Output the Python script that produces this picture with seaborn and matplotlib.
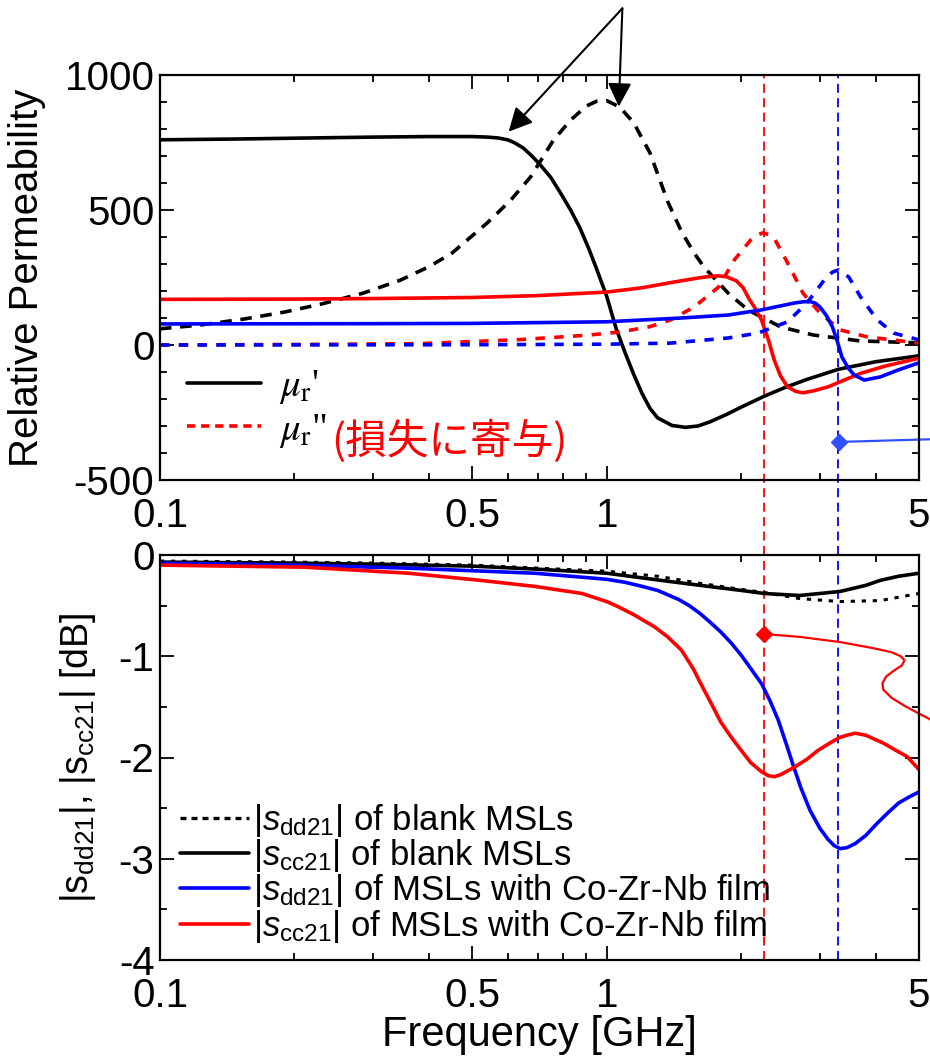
import matplotlib
matplotlib.use('Agg')
import matplotlib.pyplot as plt
import seaborn as sns
from matplotlib.lines import Line2D
from matplotlib.ticker import FixedLocator, FixedFormatter, NullFormatter, MultipleLocator
from matplotlib.font_manager import FontProperties

# ---------------- data ----------------
# Top panel: relative permeability
f_blank_re = [0.1, 0.15, 0.2, 0.3, 0.4, 0.5, 0.54, 0.57, 0.6, 0.62, 0.65, 0.68, 0.71, 0.75, 0.79, 0.83,
              0.87, 0.91, 0.95, 1.0, 1.05, 1.1, 1.15, 1.2, 1.25, 1.3, 1.4, 1.5, 1.6, 1.7, 1.85, 2.0,
              2.25, 2.5, 2.8, 3.3, 4.0, 5.0]
mu_blank_re = [760, 763, 766, 770, 772, 772, 770, 767, 760, 750, 730, 700, 667, 620, 560, 500,
               435, 360, 280, 180, 60, -30, -110, -180, -235, -270, -298, -305, -300, -285, -258, -230,
               -190, -158, -128, -90, -62, -40]

f_blank_im = [0.1, 0.123, 0.154, 0.19, 0.23, 0.285, 0.345, 0.4, 0.45, 0.54, 0.61, 0.675, 0.76, 0.83, 0.9,
              0.95, 1.0, 1.07, 1.15, 1.25, 1.37, 1.47, 1.57, 1.65, 1.87, 2.07, 2.45, 2.9, 3.7, 5.0]
mu_blank_im = [60, 74, 96, 122, 152, 192, 240, 290, 340, 452, 537, 622, 759, 833, 885,
               903, 905, 881, 822, 711, 530, 420, 340, 289, 192, 130, 67, 37, 15, 8]

f_red_re = [0.1, 0.2, 0.3, 0.5, 0.7, 1.0, 1.2, 1.4, 1.6, 1.7, 1.78, 1.85, 1.95, 2.02, 2.08, 2.15, 2.22,
            2.3, 2.37, 2.45, 2.54, 2.65, 2.75, 2.9, 3.13, 3.4, 3.7, 4.2, 5.0]
mu_red_re = [169, 170, 172, 176, 183, 196, 212, 232, 248, 254, 256, 253, 238, 212, 172, 135, 93,
             20, -55, -115, -155, -172, -177, -170, -155, -130, -105, -78, -49]

f_red_im = [0.1, 0.2, 0.38, 0.64, 0.9, 1.07, 1.25, 1.39, 1.57, 1.78, 1.93, 2.1, 2.16, 2.23, 2.3, 2.37,
            2.54, 2.75, 3.0, 3.33, 3.83, 5.0]
mu_red_im = [0, 2, 5, 20, 36, 48, 68, 93, 141, 215, 315, 389, 405, 415, 410, 396,
             304, 192, 119, 56, 30, 7]

f_blue_re = [0.1, 0.3, 0.5, 1.0, 1.47, 1.87, 2.22, 2.62, 2.75, 2.85, 2.93, 3.0, 3.1, 3.2, 3.28, 3.36,
             3.47, 3.58, 3.77, 4.1, 4.5, 5.0]
mu_blue_re = [78, 79, 80, 86, 100, 111, 130, 155, 160, 161, 155, 141, 110, 67, 15, -44,
              -85, -111, -130, -118, -92, -66]

f_blue_im = [0.1, 0.5, 1.0, 1.39, 1.87, 2.18, 2.54, 2.8, 3.07, 3.2, 3.3, 3.48, 3.7, 4.03, 4.39, 5.0]
mu_blue_im = [0, 1, 3, 7, 26, 44, 86, 154, 241, 270, 278, 252, 178, 93, 44, 19]

# Bottom panel: |s21| in dB
f_dd_blank = [0.1, 0.2, 0.3, 0.5, 0.7, 1.0, 1.3, 1.62, 2.0, 2.25, 2.7, 3.33, 4.1, 5.0]
s_dd_blank = [-0.06, -0.07, -0.08, -0.1, -0.13, -0.16, -0.21, -0.28, -0.34, -0.37, -0.43, -0.46, -0.45, -0.38]

f_cc_blank = [0.1, 0.2, 0.3, 0.5, 0.7, 1.0, 1.32, 1.62, 2.0, 2.25, 2.7, 3.33, 3.8, 4.1, 4.5, 5.0]
s_cc_blank = [-0.07, -0.08, -0.09, -0.11, -0.14, -0.18, -0.25, -0.3, -0.35, -0.38, -0.4, -0.36, -0.3, -0.25, -0.21, -0.18]

f_dd_film = [0.1, 0.2, 0.36, 0.69, 1.0, 1.1, 1.2, 1.3, 1.45, 1.53, 1.62, 1.7, 1.8, 1.9, 2.0, 2.1, 2.22,
             2.32, 2.42, 2.52, 2.62, 2.72, 2.85, 3.0, 3.13, 3.23, 3.33, 3.45, 3.6, 3.8, 4.03, 4.25, 4.5,
             4.75, 5.0]
s_dd_film = [-0.08, -0.1, -0.13, -0.18, -0.24, -0.27, -0.31, -0.35, -0.44, -0.5, -0.58, -0.66, -0.76, -0.87, -0.99,
             -1.12, -1.27, -1.44, -1.63, -1.86, -2.09, -2.3, -2.52, -2.7, -2.81, -2.87, -2.9, -2.89, -2.85, -2.77,
             -2.65, -2.55, -2.45, -2.39, -2.34]

f_cc_film = [0.1, 0.21, 0.36, 0.52, 0.69, 0.88, 1.0, 1.06, 1.15, 1.28, 1.37, 1.47, 1.56, 1.65, 1.72, 1.8,
             1.9, 2.0, 2.1, 2.22, 2.3, 2.37, 2.45, 2.62, 2.8, 2.97, 3.15, 3.33, 3.45, 3.6, 3.8, 4.17,
             4.4, 4.7, 5.0]
s_cc_film = [-0.1, -0.12, -0.18, -0.25, -0.31, -0.38, -0.46, -0.51, -0.59, -0.71, -0.81, -0.94, -1.12, -1.33, -1.48,
             -1.65, -1.8, -1.93, -2.05, -2.14, -2.18, -2.19, -2.17, -2.1, -2.02, -1.93, -1.86, -1.8, -1.78,
             -1.76, -1.78, -1.86, -1.92, -1.99, -2.12]

# reference frequencies (vertical dashed lines)
f_ref_red = 2.25
f_ref_blue = 3.3

# annotation leader lines (to labels outside the cropped figure)
lead_blue_f = [3.31, 5.35]
lead_blue_v = [-359, -349]
lead_red_f = [2.25, 2.72, 3.33, 3.95, 4.34, 4.55, 4.64, 4.58, 4.4, 4.22, 4.14, 4.16, 4.34, 4.64, 4.97, 5.33]
lead_red_v = [-0.78, -0.81, -0.86, -0.92, -0.96, -1.0, -1.04, -1.09, -1.14, -1.2, -1.27, -1.33, -1.41, -1.49, -1.56, -1.63]
arrow_from = (1.084, 1247)
arrow_tips = [(0.603, 790), (1.064, 883)]

x_major = [0.1, 0.5, 1, 5]
x_major_labels = ['0.1', '0.5', '1', '5']
x_minor = [0.2, 0.3, 0.4, 0.6, 0.7, 0.8, 0.9, 2, 3, 4]

# ---------------- style ----------------
sns.set_theme(style='ticks')
plt.rcParams['font.family'] = ['Liberation Sans', 'Noto Sans CJK JP', 'DejaVu Sans']
plt.rcParams['mathtext.fontset'] = 'custom'
plt.rcParams['mathtext.rm'] = 'Liberation Sans'
plt.rcParams['mathtext.it'] = 'Liberation Sans:italic'
plt.rcParams['mathtext.bf'] = 'Liberation Sans:bold'
plt.rcParams['axes.unicode_minus'] = False
plt.rcParams['axes.edgecolor'] = 'black'
plt.rcParams['text.color'] = 'black'
plt.rcParams['axes.labelcolor'] = 'black'
plt.rcParams['xtick.color'] = 'black'
plt.rcParams['ytick.color'] = 'black'

W, H = 930, 1061
fig = plt.figure(figsize=(W / 100, H / 100), dpi=100)
L, R = 160, 919
ax1 = fig.add_axes([L / W, (H - 480) / H, (R - L) / W, 405 / H])
ax2 = fig.add_axes([L / W, (H - 960) / H, (R - L) / W, 405 / H])

RED = '#ff0000'
BLUE = '#0000ff'
LW = 2.6

# ---------------- top panel ----------------
sns.lineplot(x=f_blank_re, y=mu_blank_re, ax=ax1, color='black', lw=LW)
sns.lineplot(x=f_blank_im, y=mu_blank_im, ax=ax1, color='black', lw=LW, linestyle=(0, (3.2, 2.4)))
sns.lineplot(x=f_red_re, y=mu_red_re, ax=ax1, color=RED, lw=LW)
sns.lineplot(x=f_red_im, y=mu_red_im, ax=ax1, color=RED, lw=LW, linestyle=(0, (2.6, 2.6)))
sns.lineplot(x=f_blue_re, y=mu_blue_re, ax=ax1, color=BLUE, lw=LW)
sns.lineplot(x=f_blue_im, y=mu_blue_im, ax=ax1, color=BLUE, lw=LW, linestyle=(0, (2.6, 2.6)))

ax1.set_xscale('log')
ax1.set_xlim(0.1, 5)
ax1.set_ylim(-500, 1000)
ax1.yaxis.set_major_locator(MultipleLocator(500))
ax1.yaxis.set_minor_locator(MultipleLocator(100))
ax1.set_ylabel('Relative Permeability', fontsize=29)
ax1.yaxis.set_label_coords(-0.150, 0.5)

# ---------------- bottom panel ----------------
sns.lineplot(x=f_dd_blank, y=s_dd_blank, ax=ax2, color='black', lw=2.2, linestyle=(0, (1.4, 2.2)))
sns.lineplot(x=f_cc_blank, y=s_cc_blank, ax=ax2, color='black', lw=LW)
sns.lineplot(x=f_dd_film, y=s_dd_film, ax=ax2, color=BLUE, lw=LW)
sns.lineplot(x=f_cc_film, y=s_cc_film, ax=ax2, color=RED, lw=LW)

ax2.set_xscale('log')
ax2.set_xlim(0.1, 5)
ax2.set_ylim(-4, 0)
ax2.yaxis.set_major_locator(MultipleLocator(1))
ax2.yaxis.set_minor_locator(MultipleLocator(0.5))
ax2.set_ylabel(r'$|\mathrm{s}_\mathrm{dd21}|$, $|\mathrm{s}_\mathrm{cc21}|$ [dB]', fontsize=27)
ax2.yaxis.set_label_coords(-0.082, 0.5)
ax2.set_xlabel('Frequency [GHz]', fontsize=30, labelpad=0)

for ax in (ax1, ax2):
    ax.xaxis.set_major_locator(FixedLocator(x_major))
    ax.xaxis.set_major_formatter(FixedFormatter(x_major_labels))
    ax.xaxis.set_minor_locator(FixedLocator(x_minor))
    ax.xaxis.set_minor_formatter(NullFormatter())
    ax.tick_params(which='both', direction='in', top=True, right=True, width=1.3, labelsize=29)
    ax.tick_params(which='major', length=10)
    ax.tick_params(which='minor', length=5)
    ax.tick_params(axis='x', pad=12)
    ax.tick_params(axis='y', pad=4)
    for sp in ax.spines.values():
        sp.set_linewidth(1.6)
        sp.set_color('black')
    ax.set_facecolor('white')

# vertical reference lines spanning both panels and the gap
gap = 75 / 405
for fr, c in ((f_ref_red, RED), (f_ref_blue, BLUE)):
    ax1.axvline(fr, ymin=-gap, ymax=1, color=c, lw=1.3, ls=(0, (5, 3)), clip_on=False, zorder=1)
    ax2.axvline(fr, color=c, lw=1.3, ls=(0, (5, 3)), zorder=1)

# leader lines with diamond markers
ax1.plot(lead_blue_f, lead_blue_v, color='#3050ff', lw=1.6, clip_on=False)
ax1.plot(lead_blue_f[:1], lead_blue_v[:1], marker='D', ms=8, color='#3050ff', clip_on=False)
ax2.plot(lead_red_f, lead_red_v, color=RED, lw=1.6, clip_on=False)
ax2.plot(lead_red_f[:1], lead_red_v[:1], marker='D', ms=8, color=RED, clip_on=False)

# arrows from the (cropped) label above
for tip in arrow_tips:
    ax1.annotate('', xy=tip, xytext=arrow_from, annotation_clip=False,
                 arrowprops=dict(arrowstyle='-|>', color='black', lw=1.5, mutation_scale=36,
                                 shrinkA=0, shrinkB=0))

# ---------------- legends ----------------
h1 = [Line2D([], [], color='black', lw=LW),
      Line2D([], [], color=RED, lw=LW, ls=(0, (2.3, 1.6)))]
leg1 = ax1.legend(h1, ["$\\mu_\\mathrm{r}$'", '$\\mu_\\mathrm{r}$"'],
                  loc='center left', bbox_to_anchor=(0.036, 0.175), frameon=False,
                  prop=FontProperties(family='Liberation Serif', size=28, math_fontfamily='stix'),
                  handlelength=1.9, handletextpad=0.45, labelspacing=0.15,
                  borderpad=0, borderaxespad=0)

h2 = [Line2D([], [], color='black', lw=2.4, ls=(0, (1.8, 1.5))),
      Line2D([], [], color='black', lw=LW),
      Line2D([], [], color=BLUE, lw=LW),
      Line2D([], [], color=RED, lw=LW)]
labels2 = [r'$|s_\mathrm{dd21}|$ of blank MSLs',
           r'$|s_\mathrm{cc21}|$ of blank MSLs',
           r'$|s_\mathrm{dd21}|$ of MSLs with Co-Zr-Nb film',
           r'$|s_\mathrm{cc21}|$ of MSLs with Co-Zr-Nb film']
leg2 = ax2.legend(h2, labels2, loc='center left', bbox_to_anchor=(0.026, 0.214), frameon=False,
                  fontsize=25, handlelength=2.0, handletextpad=0.1, labelspacing=-0.05,
                  borderpad=0, borderaxespad=0)

fig.canvas.draw()
bb = leg1.get_texts()[1].get_window_extent()
fig.text((bb.x1 + 4) / W, ((bb.y0 + bb.y1) / 2 - 10) / H, '(損失に寄与)', color=RED,
         fontsize=30, family=['Noto Sans CJK JP'], ha='left', va='center')

fig.savefig('out.png', dpi=100)
